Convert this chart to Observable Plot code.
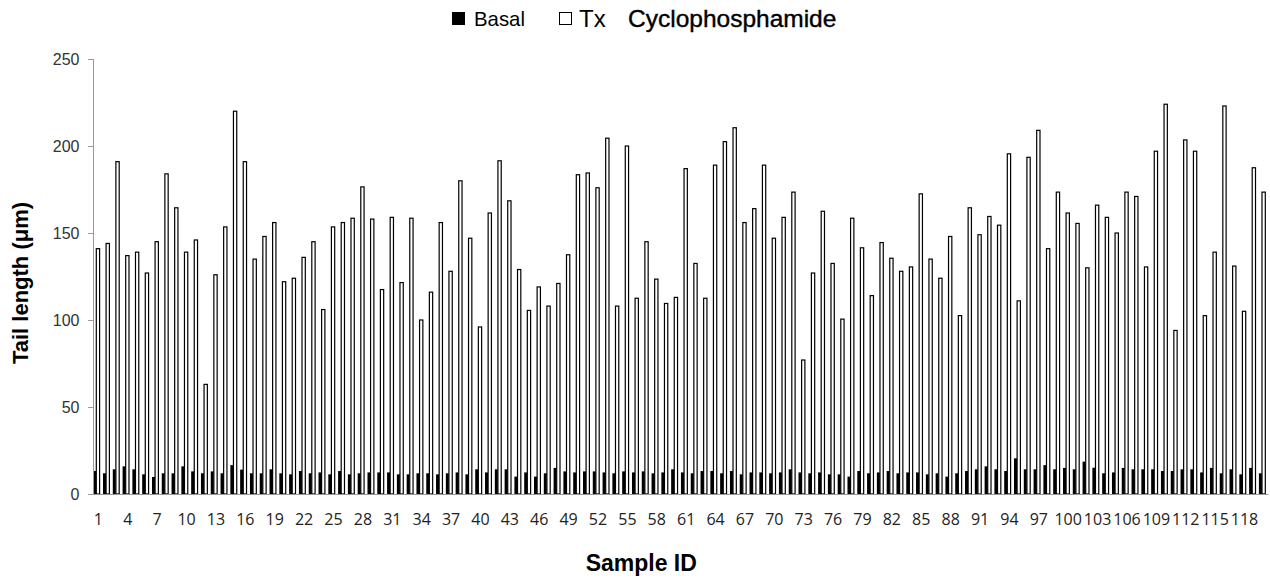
<!DOCTYPE html>
<html><head><meta charset="utf-8">
<script src="https://cdn.jsdelivr.net/npm/d3@7"></script>
<script src="https://cdn.jsdelivr.net/npm/@observablehq/plot@0.6"></script>
<style>
body{margin:0;background:#fff;}
#wrap{position:relative;width:1270px;height:579px;overflow:hidden;}
#legend{position:absolute;top:0;left:0;width:1270px;height:38px;font-family:"Liberation Sans",Arial,sans-serif;color:#000;z-index:2;}
#legend span{position:absolute;line-height:1;}
</style></head>
<body><div id="wrap">
<div id="legend">
  <span style="left:452px;top:12px;width:13px;height:13px;background:#000;"></span>
  <span style="left:474px;top:8px;font-size:21px;transform:scaleX(0.97);transform-origin:left;">Basal</span>
  <span style="left:559px;top:12px;width:13px;height:13px;box-sizing:border-box;border:1.5px solid #000;background:#fff;"></span>
  <span style="left:579px;top:7px;font-size:24px;">Tx</span>
  <span style="left:628px;top:7px;font-size:24.5px;-webkit-text-stroke:0.4px #000;">Cyclophosphamide</span>
</div>
<div id="chart"></div>
</div>
<script>
const sampleIds = d3.range(1, 121);
const basal = [
13.2,11.9,14.2,15.9,14.2,11.3,9.8,11.9,11.9,15.9,13,11.9,13,11.9,16.6,14,11.9,11.9,14.2,11.9,11.3,13.2,11.9,12.4,11.3,13.2,11.3,11.9,12.4,12.4,
12.4,11.3,11.3,11.9,11.9,11.3,11.9,12.4,11.3,14.2,12.4,14.2,14.2,10,12.4,10,11.9,15,13,12.4,13,13,12.4,11.9,13,12.4,13,11.9,12.4,14.2,
12.4,11.9,13.2,13.2,11.9,13.2,11.3,12.4,12.4,11.9,12.4,14.2,12.4,11.9,12.4,11.3,11.3,10,13.2,11.9,12.4,13.2,11.9,12.4,12.4,11.3,11.9,10,11.9,13.2,
14.2,15.9,14.2,13.2,20.5,14.2,14.2,16.6,14.2,15,14.2,18.6,15.1,11.9,12.4,15,14.2,14.2,14.2,13.2,13.2,14.2,14.2,12.4,15,11.9,14.2,11.3,15,11.9];
const tx = [
141,144,191,137,139,127,145,184,164.5,139,146,63,126,153.5,220,191,135,148,156,122,124,136,145,106,153.5,156,158.5,176.5,158,117.5,
159,121.5,158.5,100,116,156,128,180,147,96,161.5,191.5,168.5,129,105.5,119,108,121,137.5,183.5,184.5,176,204.5,108,200,112.5,145,123.5,109.5,113,
187,132.5,112.5,189,202.5,210.5,156,164,189,147,159,173.5,77,127,162.5,132.5,100.5,158.5,141.5,114,144.5,135.5,128,130.5,172.5,135,124,148,102.5,164.5,
149,159.5,154.5,195.5,111,193.5,209,141,173.5,161.5,155.5,130,166,159,150,173.5,171,130.5,197,224,94,203.5,197,102.5,139,223,131,105,187.5,173.5];
const xTicks = [1,4,7,10,13,16,19,22,25,28,31,34,37,40,43,46,49,52,55,58,61,64,67,70,73,76,79,82,85,88,91,94,97,100,103,106,109,112,115,118];
const yTicks = [0,50,100,150,200,250];
const yTitle = "Tail length (μm)";
const xTitle = "Sample ID";

const data = sampleIds.map((id, i) => ({id, basal: basal[i], tx: tx[i]}));

const chart = Plot.plot({
  width: 1270, height: 579,
  marginTop: 59, marginBottom: 85, marginLeft: 93, marginRight: 1.5,
  style: {background: "#fff", fontFamily: "'Liberation Sans', Arial, sans-serif"},
  x: {type: "band", domain: sampleIds, padding: 0, axis: null},
  y: {domain: [0, 250], axis: null},
  marks: [
    Plot.axisY({ticks: yTicks, tickSize: 5, tickPadding: 9, stroke: "#999", fill: "#333", fontSize: 16, label: null}),
    Plot.axisX({ticks: xTicks, tickSize: 0, tickPadding: 19, fill: "#222", fontSize: 16, fontFamily: "'Open Sans', sans-serif", label: null}),
    Plot.barY(data, {x: "id", y: "basal", fill: "#000", insetLeft: 0.2, insetRight: 6.6}),
    Plot.barY(data, {x: "id", y: "tx", fill: "#fff", stroke: "#000", strokeWidth: 1.2, insetLeft: 3.3, insetRight: 3.2}),
    Plot.ruleY([0], {stroke: "#999"}),
    Plot.frame({anchor: "left", stroke: "#999"}),
    Plot.text([yTitle], {text: d => d, frameAnchor: "left", textAnchor: "middle", rotate: -90, dx: -73, dy: 6, fontSize: 22, fontWeight: "bold", fill: "#000"}),
    Plot.text([xTitle], {text: d => d, frameAnchor: "bottom", textAnchor: "middle", dx: -40, dy: 76, fontSize: 23, fontWeight: "bold", fill: "#000"})
  ]
});
document.getElementById("chart").appendChild(chart);
</script>
</body></html>
